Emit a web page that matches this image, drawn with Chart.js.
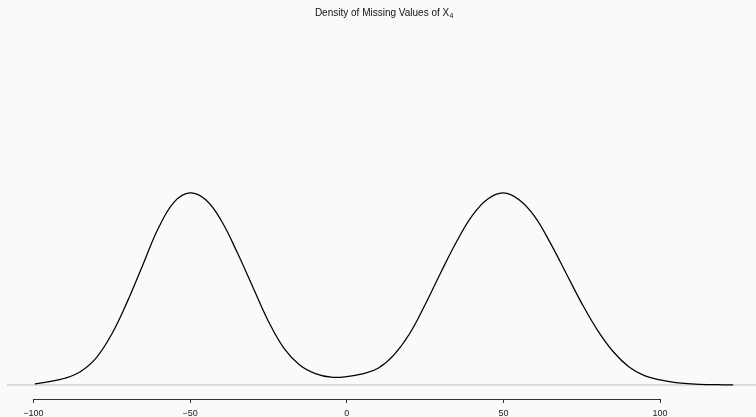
<!DOCTYPE html>
<html>
<head>
<meta charset="utf-8">
<script src="https://cdn.jsdelivr.net/npm/chart.js@4/dist/chart.umd.min.js"></script>
<style>
  html, body { margin: 0; padding: 0; background: #fafafa; overflow: hidden; }
  canvas { display: block; }
</style>
</head>
<body>
<canvas id="chart" width="756" height="417"></canvas>
<script>
// Kernel density estimate of the missing X4 values (x grid and density)
const grid = [-99.5, -95, -90, -85, -80, -75, -70, -65, -60, -55, -50, -45, -40, -35, -30, -25, -20, -15, -10, -5,
              0, 5, 10, 15, 20, 25, 30, 35, 40, 45, 50, 55, 60, 65, 70, 75, 80, 85, 90, 95, 100, 105, 110, 115, 120, 123.3];
const density = [0.000056, 0.00019, 0.00039, 0.00077, 0.00156, 0.00296, 0.00486, 0.00703, 0.00918, 0.01068,
                 0.01120, 0.01080, 0.00958, 0.00775, 0.00573, 0.00372, 0.00213, 0.00116, 0.00066, 0.00045,
                 0.00048, 0.00064, 0.00097, 0.00174, 0.00297, 0.00468, 0.00655, 0.00834, 0.00986, 0.01084,
                 0.01120, 0.01080, 0.00982, 0.00827, 0.00652, 0.00476, 0.00320, 0.00195, 0.00106, 0.00054,
                 0.00029, 0.00013, 0.00006, 0.00002, 0.00001, 0.000006];
const tickValues = [-100, -50, 0, 50, 100];
const plotRange = [-108.4, 132.2];   // full x extent of the plotting region
const xLimits = [-108.4, 130.6];     // part of it that fits on the canvas
const yLimits = [-0.00082, 0.02123];
const titleMain = 'Density of Missing Values of X';
const titleSub = '4';

const FONT = '"Liberation Sans", Arial, Helvetica, sans-serif';

const curvePoints = grid.map((x, i) => ({ x: x, y: density[i] }));
const baseline = [{ x: xLimits[0], y: 0 }, { x: xLimits[1], y: 0 }];

// Title with subscript, plus an axis line that only spans the labelled ticks
const decorations = {
  id: 'decorations',
  afterDraw(chart) {
    const ctx = chart.ctx;
    const xs = chart.scales.x;
    const area = chart.chartArea;

    ctx.save();
    ctx.strokeStyle = '#333';
    ctx.lineWidth = 1;
    const yAxis = Math.round(area.bottom) + 0.5;
    ctx.beginPath();
    ctx.moveTo(Math.round(xs.getPixelForValue(tickValues[0])) + 0.5, yAxis);
    ctx.lineTo(Math.round(xs.getPixelForValue(tickValues[tickValues.length - 1])) + 0.5, yAxis);
    ctx.stroke();

    const cx = (xs.getPixelForValue(plotRange[0]) + xs.getPixelForValue(plotRange[1])) / 2;
    const mainFont = '10px ' + FONT;
    const subFont = '7px ' + FONT;
    ctx.font = mainFont;
    const w1 = ctx.measureText(titleMain).width;
    ctx.font = subFont;
    const w2 = ctx.measureText(titleSub).width;
    const x0 = cx - (w1 + w2) / 2;
    const baseY = 15.5;
    ctx.fillStyle = '#111';
    ctx.textBaseline = 'alphabetic';
    ctx.textAlign = 'left';
    ctx.font = mainFont;
    ctx.fillText(titleMain, x0, baseY);
    ctx.font = subFont;
    ctx.fillText(titleSub, x0 + w1 + 0.3, baseY + 2);
    ctx.restore();
  }
};

new Chart(document.getElementById('chart'), {
  type: 'line',
  data: {
    datasets: [
      {
        data: curvePoints,
        borderColor: '#000',
        borderWidth: 1.25,
        pointRadius: 0,
        fill: false,
        tension: 0.4
      },
      {
        data: baseline,
        borderColor: '#bebebe',
        borderWidth: 1,
        pointRadius: 0,
        fill: false
      }
    ]
  },
  options: {
    responsive: false,
    devicePixelRatio: 1,
    animation: false,
    layout: { padding: { left: 7, right: 0, top: 21, bottom: 0 } },
    plugins: {
      legend: { display: false },
      title: { display: false },
      tooltip: { enabled: false }
    },
    scales: {
      x: {
        type: 'linear',
        min: xLimits[0],
        max: xLimits[1],
        afterBuildTicks(scale) {
          scale.ticks = tickValues.map(v => ({ value: v }));
        },
        afterFit(scale) {
          scale.height = 18;
        },
        border: { display: false },
        grid: {
          drawOnChartArea: false,
          drawTicks: true,
          tickLength: 4,
          color: '#333',
          lineWidth: 1
        },
        ticks: {
          padding: 5.5,
          maxRotation: 0,
          autoSkip: false,
          color: '#222',
          font: { family: FONT, size: 9 },
          callback: v => String(v).replace('-', '\u2212')
        }
      },
      y: {
        display: false,
        min: yLimits[0],
        max: yLimits[1]
      }
    }
  },
  plugins: [decorations]
});
</script>
</body>
</html>
